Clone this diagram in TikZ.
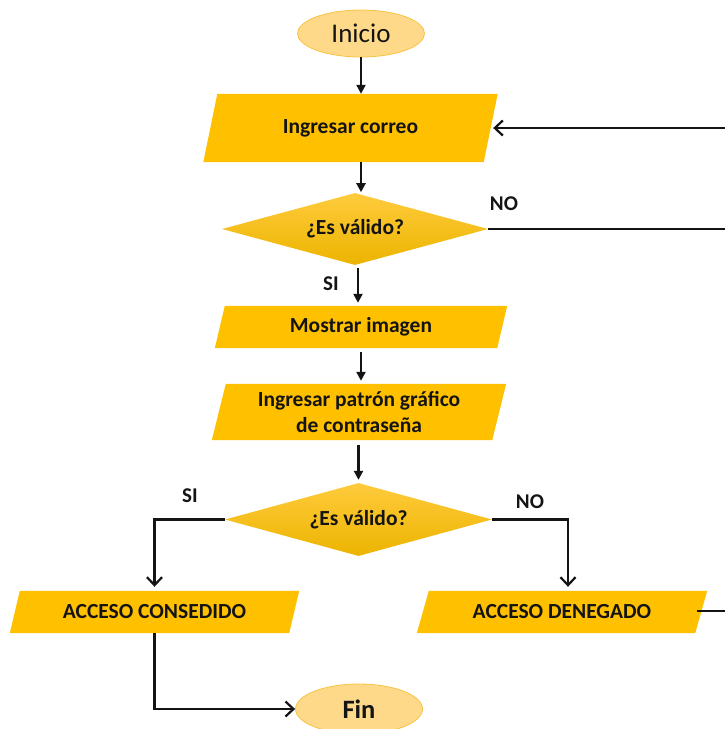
\documentclass[tikz,border=0pt]{standalone}
\usepackage{fontspec}
\setmainfont{Carlito}
\usetikzlibrary{shapes.geometric,arrows.meta,backgrounds,calc}

\definecolor{gold}{HTML}{FFC000}
\definecolor{goldtop}{HTML}{FFCB3C}
\definecolor{goldbot}{HTML}{ECB400}
\definecolor{termfill}{HTML}{FFD98A}
\definecolor{termline}{HTML}{F7C343}
\definecolor{ink}{HTML}{141414}

% parallelogram drawn behind a named rectangle node: #1 node, #2 half slant
\newcommand{\slantbox}[2]{%
  \fill[gold] ($(#1.south west)+(-#2,0)$) -- ($(#1.south east)+(-#2,0)$)
    -- ($(#1.north east)+(#2,0)$) -- ($(#1.north west)+(#2,0)$) -- cycle;}

\tikzset{
  terminal/.style={ellipse, draw=termline, line width=0.8pt, fill=termfill,
    minimum width=127pt, minimum height=47pt, inner sep=0pt, text=ink},
  iobox/.style={rectangle, inner sep=0pt, text=ink, align=center,
    font=\fontsize{21.5}{25.5}\selectfont\bfseries},
  decision/.style={diamond, aspect=3.7, top color=goldtop, bottom color=goldbot,
    inner sep=0pt, text=ink, font=\fontsize{21.5}{24}\selectfont\bfseries},
  tag/.style={text=ink, font=\fontsize{21}{23}\selectfont\bfseries},
  flow/.style={line width=2.2pt, draw=ink},
  solidhead/.style={flow, -{Triangle[length=9pt,width=9pt]}},
  openhead/.style={flow, -{Straight Barb[length=8pt,width=15pt,line width=2.2pt]}},
}

\begin{document}
\begin{tikzpicture}[x=1pt,y=-1pt]
\useasboundingbox (0,0) rectangle (724,729);

% start and end
\node[terminal, font=\fontsize{27}{30}\selectfont] (ini) at (361,33.5) {Inicio};
\node[terminal, font=\fontsize{26.5}{29}\selectfont\bfseries,
      minimum height=50pt] (fin) at (359,709) {Fin};

% input/process boxes
\node[iobox, minimum width=280pt, minimum height=68pt] (mail) at (350.5,128) {Ingresar correo};
\node[iobox, minimum width=282pt, minimum height=42pt] (img) at (361,327) {Mostrar imagen};
\node[iobox, minimum width=280pt, minimum height=56pt] (pat) at (359,412)
  {Ingresar patrón gráfico\\ de contraseña};
\node[iobox, minimum width=279pt, minimum height=42pt] (ok) at (154.5,612) {ACCESO CONSEDIDO};
\node[iobox, minimum width=278pt, minimum height=42pt] (deny) at (562,612) {ACCESO DENEGADO};

\begin{scope}[on background layer]
  \slantbox{mail}{7pt}
  \slantbox{img}{5pt}
  \slantbox{pat}{7pt}
  \slantbox{ok}{5pt}
  \slantbox{deny}{6pt}
\end{scope}

% decisions
\node[decision, minimum width=266pt, minimum height=72pt] (chk1) at (355,229) {¿Es válido?};
\node[decision, minimum width=267pt, minimum height=73pt] (chk2) at (358.5,519.5) {¿Es válido?};

% branch labels
\node[tag] (no1) at (504,204) {NO};
\node[tag] (si1) at (331,284) {SI};
\node[tag] (si2) at (190,496) {SI};
\node[tag] (no2) at (530,502) {NO};

% return rail beyond the right edge
\coordinate (railtop) at (740,128);
\coordinate (railmid) at (740,229);
\coordinate (railbot) at (740,611);
\coordinate (denyin) at ($(deny.north)+(6,-4)$);
\coordinate (s1) at ($(chk1.south)+(3,3)$);
\coordinate (denyout) at ($(deny.east)+(-4,-1)$);

% main flow
\draw[solidhead] (ini.south) -- (ini.south |- mail.north);
\draw[solidhead] (mail.south -| ini.south) -- ++(0,30);
\draw[solidhead] (s1) -- ($(img.north -| s1)+(0,-3)$);
\draw[solidhead, shorten <=4pt] (img.south) -- ($(pat.north -| img.south)+(0,-3)$);
\draw[solidhead, shorten <=5pt] (pat.south -| chk2.north) -- ($(chk2.north)+(0,-3)$);

% outcomes
\draw[openhead] (chk2.west) -| ($(ok.north)+(0,-4)$);
\draw[openhead] (chk2.east) -| (denyin);
\draw[openhead] (ok.south) |- (fin.west);

% loop back to the e-mail input
\draw[flow] (chk1.east) -- (railmid);
\draw[flow] (denyout) -- (railbot);
\draw[flow] (railbot) -- (railtop);
\draw[openhead] (railtop) -- ($(mail.east)+(2.5,0)$);
\end{tikzpicture}
\end{document}
